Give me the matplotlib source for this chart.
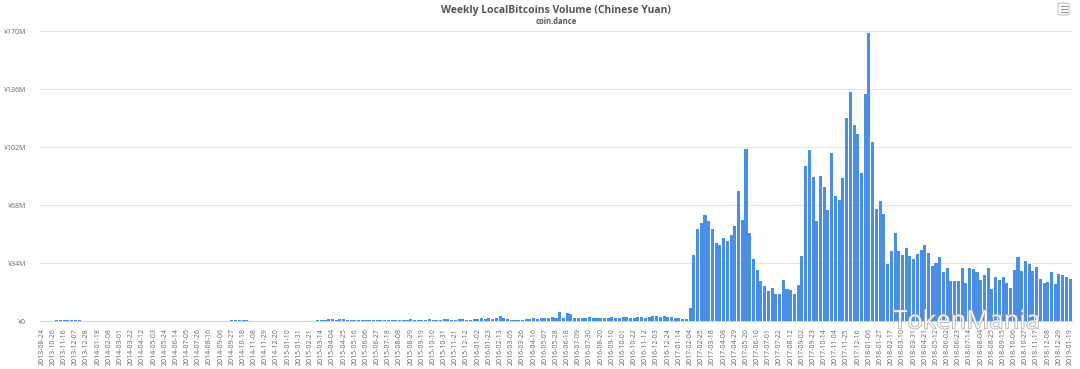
import matplotlib
matplotlib.use("Agg")
import matplotlib.pyplot as plt
import matplotlib.patheffects as pe
from matplotlib.patches import FancyBboxPatch
import pandas as pd

# ---- data -------------------------------------------------------------
first_week = ["2013-08-24"]
weekly = list(pd.date_range("2013-10-12", "2019-01-19", freq="7D").strftime("%Y-%m-%d"))
weeks = first_week + weekly  # 277 categories

early_volume = [  # ¥M, 2013-08-24 .. 2017-01-28
    0.1, 0.1, 0.1, 0.2, 0.3, 0.3, 0.4, 0.6, 0.7, 0.5,
    0.3, 0.2, 0.2, 0.2, 0.1, 0.1, 0.1, 0.1, 0.1, 0.1,
    0.1, 0.1, 0.1, 0.1, 0.1, 0.1, 0.1, 0.1, 0.1, 0.1,
    0.1, 0.1, 0.1, 0.1, 0.1, 0.1, 0.1, 0.1, 0.1, 0.1,
    0.1, 0.1, 0.1, 0.1, 0.1, 0.1, 0.1, 0.1, 0.1, 0.1,
    0.2, 0.3, 0.3, 0.4, 0.3, 0.3, 0.2, 0.2, 0.1, 0.1,
    0.1, 0.1, 0.1, 0.1, 0.1, 0.1, 0.1, 0.1, 0.1, 0.1,
    0.1, 0.1, 0.2, 0.2, 0.3, 0.5, 0.8, 1.0, 0.9, 0.6,
    1.2, 1.0, 0.8, 0.5, 0.5, 0.4, 0.4, 0.5, 0.6, 0.5,
    0.5, 0.4, 0.6, 0.6, 0.7, 0.5, 0.6, 0.8, 0.7, 0.9,
    0.8, 0.6, 0.7, 0.8, 0.9, 0.7, 0.6, 0.8, 0.9, 1.0,
    0.8, 0.7, 0.9, 1.0, 0.6, 0.8, 1.0, 1.2, 1.5, 1.0,
    1.8, 1.2, 2.0, 2.8, 2.0, 1.2, 0.8, 0.6, 0.5, 0.7,
    1.0, 1.2, 1.5, 1.3, 1.8, 1.5, 2.0, 2.2, 1.6, 5.0,
    1.5, 4.6, 4.2, 1.8, 1.5, 2.0, 1.8, 2.2, 1.6, 1.9,
    1.8, 1.6, 1.9, 2.1, 2.0, 1.8, 2.2, 2.4, 1.9, 2.0,
    2.2, 2.5, 2.0, 2.6, 3.2, 3.0, 2.4, 2.8, 2.2, 2.5,
    2.0, 1.8, 1.2, 0.9,
]
late_volume = [  # ¥M, 2017-02-04 .. 2019-01-19
    7.8, 38.7, 53.9, 57.2, 62.1, 58.8, 53.7, 45.5, 44.5, 48.5,
    46.9, 50.4, 55.9, 76.2, 59.2, 100.6, 51.4, 36.2, 29.9, 23.4,
    20.7, 17.8, 19.2, 15.8, 15.8, 24.0, 18.9, 18.2, 15.8, 21.1,
    38.1, 91.0, 100.2, 84.2, 58.6, 85.0, 78.4, 65.1, 98.7, 73.4,
    70.9, 83.6, 119.2, 134.4, 114.9, 109.4, 86.9, 133.0, 168.6, 104.7,
    65.5, 70.5, 62.7, 33.2, 41.0, 51.4, 41.0, 38.7, 43.0, 38.1,
    36.2, 39.3, 41.6, 44.5, 40.0, 32.2, 34.2, 37.7, 28.9, 31.2,
    23.4, 23.4, 23.4, 30.9, 22.5, 30.9, 30.3, 28.9, 24.0, 27.0,
    30.9, 18.8, 25.6, 24.0, 26.0, 22.5, 19.2, 29.9, 37.7, 29.5,
    35.2, 33.2, 29.3, 31.5, 24.4, 22.1, 23.0, 28.9, 21.5, 27.4,
    26.8, 26.0, 24.6,
]
volume = early_volume + late_volume

y_ticks = [0, 34, 68, 102, 136, 170]
y_labels = ["¥0", "¥34M", "¥68M", "¥102M", "¥136M", "¥170M"]
title = "Weekly LocalBitcoins Volume (Chinese Yuan)"
subtitle = "coin.dance"
watermark = "TokenMania"

# ---- figure -----------------------------------------------------------
plt.rcParams["font.family"] = ["Open Sans", "DejaVu Sans"]
fig = plt.figure(figsize=(10.8, 3.69), dpi=100)
fig.patch.set_facecolor("white")
ax = fig.add_axes([40 / 1080, 1 - 321 / 369, 1032 / 1080, 290 / 369])

x = list(range(len(weeks)))
ax.bar(x, volume, width=0.82, color="#4a90e2", edgecolor="none", zorder=3)

ax.set_xlim(-0.5, len(weeks) - 0.5)
ax.set_ylim(0, 170)
ax.set_yticks(y_ticks)
ax.set_yticklabels(y_labels, fontsize=5, color="#666666")
ax.yaxis.grid(True, color="#e6e6e6", linewidth=0.8, zorder=0)
ax.tick_params(axis="y", length=0, pad=10)

tick_idx = x[::3]
ax.set_xticks(tick_idx)
ax.set_xticklabels([weeks[i] for i in tick_idx], rotation=90, fontsize=5,
                   color="#666666")
ax.tick_params(axis="x", length=0, pad=5)

for s in ["top", "right", "left"]:
    ax.spines[s].set_visible(False)
ax.spines["bottom"].set_color("#ccd6eb")
ax.spines["bottom"].set_linewidth(0.8)

fig.text(0.515, 1 - 11 / 369, title, ha="center", va="center", fontsize=7.5,
         fontweight="bold", color="#555555")
fig.text(0.515, 1 - 22 / 369, subtitle, ha="center", va="center", fontsize=5.5,
         fontweight="bold", color="#555555")

# menu icon
fig.patches.append(FancyBboxPatch((1058 / 1080, 1 - 15 / 369), 11 / 1080, 12 / 369,
                                  boxstyle="round,pad=0,rounding_size=0.003",
                                  transform=fig.transFigure, fc="white",
                                  ec="#bbbbbb", lw=0.7))
for yy in (6, 9, 12):
    fig.add_artist(plt.Line2D([1060.5 / 1080, 1066.5 / 1080], [1 - yy / 369] * 2,
                              transform=fig.transFigure, color="#888888", lw=0.7))

# watermark
fig.text(893 / 1080, 1 - 322 / 369, watermark, ha="left", va="center",
         fontsize=18.5, color="white", alpha=0.85,
         path_effects=[pe.withStroke(linewidth=1.0, foreground="#9a9a9a")])

fig.savefig("out.png", dpi=100, facecolor="white")
